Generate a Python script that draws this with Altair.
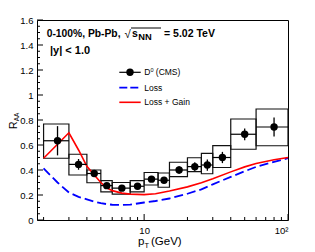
import altair as alt
import pandas as pd

# ---------------- data ----------------
pt = [2.5, 3.5, 4.5, 5.5, 7, 9, 11.25, 13.75, 17.5, 22.5, 27.5, 35, 50, 80]
pt_lo = [2, 3, 4, 5, 6, 8, 10, 12.5, 15, 20, 25, 30, 40, 60]
pt_hi = [3, 4, 5, 6, 8, 10, 12.5, 15, 20, 25, 30, 40, 60, 100]
raa = [0.634, 0.445, 0.372, 0.275, 0.255, 0.27, 0.327, 0.318, 0.40, 0.427, 0.44, 0.50, 0.686, 0.744]
stat = [0.117, 0.043, 0.02, 0.02, 0.015, 0.015, 0.02, 0.02, 0.03, 0.035, 0.045, 0.045, 0.047, 0.076]
sys_lo = [0.494, 0.36, 0.298, 0.225, 0.207, 0.225, 0.28, 0.262, 0.347, 0.387, 0.37, 0.42, 0.566, 0.594]
sys_hi = [0.768, 0.526, 0.40, 0.315, 0.30, 0.315, 0.38, 0.376, 0.462, 0.498, 0.533, 0.595, 0.808, 0.888]

pt_curve = [2, 2.5, 3, 3.5, 4, 4.5, 5, 5.5, 6, 7, 8, 10, 12, 15, 20, 25, 30, 40, 50, 60, 80, 100]
loss = [0.413, 0.30, 0.22, 0.185, 0.165, 0.147, 0.135, 0.127, 0.122, 0.12, 0.123, 0.14, 0.152,
        0.172, 0.21, 0.245, 0.285, 0.345, 0.39, 0.425, 0.465, 0.494]
loss_gain = [0.494, 0.606, 0.698, 0.56, 0.43, 0.36, 0.30, 0.258, 0.235, 0.215, 0.207, 0.203, 0.21,
             0.232, 0.265, 0.298, 0.33, 0.385, 0.425, 0.452, 0.482, 0.5]

y_major = [0, 0.2, 0.4, 0.6, 0.8, 1.0, 1.2, 1.4, 1.6]
y_minor = [round(0.05 * i, 2) for i in range(33) if i % 4 != 0]
x_major = [10, 100]
x_minor = [2, 3, 4, 5, 6, 7, 8, 9, 20, 30, 40, 50, 60, 70, 80, 90]

FONT = "Liberation Sans"
W, H = 251, 200

df = pd.DataFrame({
    "pt": pt, "lo": pt_lo, "hi": pt_hi, "raa": raa,
    "elo": [r - e for r, e in zip(raa, stat)],
    "ehi": [r + e for r, e in zip(raa, stat)],
    "slo": sys_lo, "shi": sys_hi,
})
curves = pd.DataFrame({"pt": pt_curve, "loss": loss, "lg": loss_gain})

xs = alt.Scale(type="log", domain=[1.8, 100], nice=False)
ys = alt.Scale(domain=[0, 1.6], nice=False)
xaxis = alt.Axis(values=x_major, labelExpr="datum.value == 100 ? '10²' : '10'",
                 ticks=False, tickSize=0, domain=False, grid=False, title=None,
                 labelFont=FONT, labelFontSize=9.5, labelColor="black", labelPadding=5)
yaxis = alt.Axis(values=y_major, format="~g", ticks=False, tickSize=0, domain=False,
                 grid=False, title=None, labelFont=FONT, labelFontSize=9.5,
                 labelColor="black", labelPadding=4)

X = lambda f: alt.X(f, type="quantitative", scale=xs, axis=xaxis)
Y = lambda f: alt.Y(f, type="quantitative", scale=ys, axis=yaxis)

base = alt.Chart(df)

boxes = base.mark_rect(fillOpacity=0, stroke="#111", strokeWidth=1.2).encode(
    x=X("lo"), x2="hi", y=Y("slo"), y2="shi")
hbars = base.mark_rule(color="black", strokeWidth=1.2).encode(
    x=X("lo"), x2="hi", y=Y("raa"))
vbars = base.mark_rule(color="black", strokeWidth=1.3).encode(
    x=X("pt"), y=Y("elo"), y2="ehi")
pts = base.mark_point(filled=True, shape="circle", size=55, color="black", opacity=1).encode(
    x=X("pt"), y=Y("raa"))

loss_line = alt.Chart(curves).mark_line(color="#0000ff", strokeWidth=1.8, strokeDash=[9, 4]).encode(
    x=X("pt"), y=Y("loss"))
lg_line = alt.Chart(curves).mark_line(color="#ff0000", strokeWidth=1.6).encode(
    x=X("pt"), y=Y("lg"))

# inward ticks
ymaj = alt.Chart(pd.DataFrame({"v": y_major})).mark_rule(color="black").encode(
    x=alt.value(0), x2=alt.value(6), y=Y("v"))
ymin = alt.Chart(pd.DataFrame({"v": y_minor})).mark_rule(color="black").encode(
    x=alt.value(0), x2=alt.value(3), y=Y("v"))
xmaj = alt.Chart(pd.DataFrame({"v": x_major})).mark_rule(color="black").encode(
    x=X("v"), y=alt.value(H), y2=alt.value(H - 6))
xmin = alt.Chart(pd.DataFrame({"v": x_minor})).mark_rule(color="black").encode(
    x=X("v"), y=alt.value(H), y2=alt.value(H - 3))

one = pd.DataFrame({"a": [0]})


def txt(s, x, y, size, bold=False, angle=0, align="left"):
    kw = dict(text=s, align=align, baseline="alphabetic", fontSize=size, font=FONT, color="black")
    if bold:
        kw["fontWeight"] = "bold"
    if angle:
        kw["angle"] = angle
    return alt.Chart(one).mark_text(**kw).encode(x=alt.value(x), y=alt.value(y))


def hrule(x1, x2, y, color="black", width=1.0, dash=None):
    kw = dict(color=color, strokeWidth=width)
    if dash:
        kw["strokeDash"] = dash
    return alt.Chart(one).mark_rule(**kw).encode(x=alt.value(x1), x2=alt.value(x2), y=alt.value(y))


texts = [
    txt("0-100%, Pb-Pb,", 9.7, 16.5, 10.3, bold=True),
    txt("√", 87.5, 17.5, 11.5),
    hrule(94, 124, 8, width=1.0),
    txt("s", 95, 16.5, 10.5, bold=True),
    txt("NN", 101.3, 19.5, 9.3, bold=True),
    txt("= 5.02 TeV", 127, 16.5, 10.5, bold=True),
    txt("|y| < 1.0", 13, 33.5, 11, bold=True),
    # legend
    hrule(82.3, 103.7, 52.3, width=1.2),
    alt.Chart(one).mark_point(filled=True, shape="circle", size=55, color="black", opacity=1).encode(
        x=alt.value(93), y=alt.value(52.3)),
    txt("D", 107.3, 55.3, 8.5),
    txt("0", 113.4, 51.5, 5.5),
    txt("(CMS)", 118.8, 55.3, 8.5),
    hrule(82.3, 103.7, 67.7, color="#0000ff", width=1.8, dash=[8, 3]),
    txt("Loss", 107.3, 70.7, 8.5),
    hrule(82.3, 103.7, 82.3, color="#ff0000", width=1.6),
    txt("Loss + Gain", 107.3, 85.3, 8.5),
    # axis titles
    txt("p", 101, 225, 11.5),
    txt("T", 107.5, 228, 7.5),
    txt("(GeV)", 114, 225, 11.5),
    txt("R", -20.5, 109, 10.5, angle=270),
    txt("AA", -18.3, 101.3, 6.5, angle=270),
]

chart = alt.layer(
    boxes, loss_line, lg_line, hbars, vbars, pts,
    ymaj, ymin, xmaj, xmin, *texts
).properties(
    width=W, height=H,
    padding={"left": 29, "top": 12, "right": 19, "bottom": 32},
    autosize=alt.AutoSizeParams(type="none"),
    background="white",
).configure_view(stroke="black", strokeWidth=1)

chart.save("out.html", embed_options={"renderer": "svg", "actions": False})
